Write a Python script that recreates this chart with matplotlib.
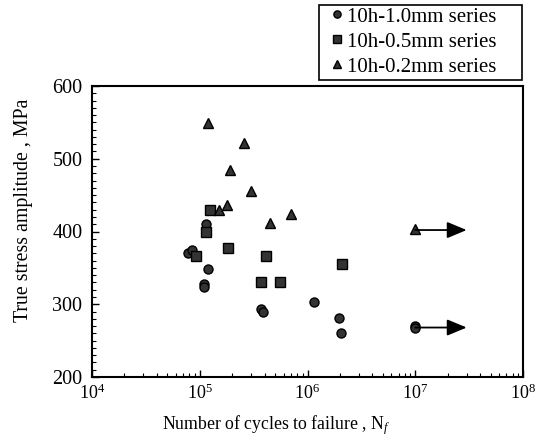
import matplotlib
matplotlib.use("Agg")
import matplotlib.pyplot as plt
from matplotlib.ticker import LogLocator, MultipleLocator, FixedLocator
from matplotlib.patches import Rectangle
import numpy as np

plt.rcParams['font.family'] = ['Liberation Serif', 'DejaVu Serif']
plt.rcParams['mathtext.fontset'] = 'custom'
plt.rcParams['mathtext.rm'] = 'Liberation Serif'
plt.rcParams['mathtext.it'] = 'Liberation Serif:italic'

# 10h-1.0mm series (circles)
n_10 = [7.7e4, 8.5e4, 1.14e5, 1.19e5, 1.1e5, 1.1e5, 3.72e5, 3.9e5, 1.14e6, 1.98e6, 2.06e6]
s_10 = [371, 375, 410, 349, 328, 324, 294, 289, 303, 281, 261]
# 10h-0.5mm series (squares)
n_05 = [9.3e4, 1.14e5, 1.24e5, 1.83e5, 4.11e5, 3.72e5, 5.5e5, 2.08e6]
s_05 = [367, 400, 429, 377, 366, 331, 331, 355]
# 10h-0.2mm series (triangles)
n_02 = [1.19e5, 2.57e5, 1.91e5, 2.97e5, 1.78e5, 1.50e5, 4.45e5, 7.0e5]
s_02 = [549, 521, 484, 455, 436, 429, 412, 424]
# run-out specimens (no failure)
runout_n = [1e7, 1e7, 1e7]
runout_s = [270, 267, 403]
runout_marker = ['o', 'o', '^']
arrow_start_n = [1e7, 1e7]
arrow_s = [268, 402]
arrow_end_n = 3.0e7

labels = ['10h-1.0mm series', '10h-0.5mm series', '10h-0.2mm series']
xticks = [1e4, 1e5, 1e6, 1e7, 1e8]
xticklabels = [r'$10^4$', r'$10^5$', r'$10^6$', r'$10^7$', r'$10^8$']
yticks = [200, 300, 400, 500, 600]

W, H = 539, 443
fig = plt.figure(figsize=(W / 100, H / 100), dpi=100)
ax = fig.add_axes([92 / W, 1 - 377 / H, 431 / W, 291 / H])

fc = '#333333'
kw = dict(linestyle='none', markerfacecolor=fc, markeredgecolor='black', markeredgewidth=1.0)
h1, = ax.plot(n_10, s_10, marker='o', markersize=6.5, label=labels[0], **kw)
h2, = ax.plot(n_05, s_05, marker='s', markersize=6.5, label=labels[1], **kw)
h3, = ax.plot(n_02, s_02, marker='^', markersize=7.5, label=labels[2], **kw)

for n, s in zip(arrow_start_n, arrow_s):
    ax.annotate('', xy=(arrow_end_n, s), xytext=(n, s),
                arrowprops=dict(arrowstyle='-|>,head_length=1.2,head_width=0.5',
                                color='black', lw=1.3, shrinkA=0, shrinkB=0))
for n, s, m in zip(runout_n, runout_s, runout_marker):
    ax.plot([n], [s], marker=m, markersize=6.5 if m == 'o' else 7.5, **kw)

ax.set_xscale('log')
ax.set_xlim(1e4, 1e8)
ax.set_ylim(200, 600)
ax.xaxis.set_major_locator(FixedLocator(xticks))
ax.set_xticks(xticks)
ax.set_xticklabels(xticklabels)
ax.xaxis.set_minor_locator(LogLocator(base=10, subs=np.arange(2, 10), numticks=20))
ax.set_yticks(yticks)
ax.yaxis.set_minor_locator(MultipleLocator(10))

ax.tick_params(axis='both', which='both', direction='in', top=False, right=False)
ax.tick_params(axis='x', labelsize=13, pad=5)
ax.tick_params(axis='y', labelsize=14.5, pad=7)
ax.tick_params(axis='both', which='major', length=5, width=1)
ax.tick_params(axis='both', which='minor', length=3, width=0.8)
for sp in ax.spines.values():
    sp.set_linewidth(1.5)

ax.set_xlabel(r'Number of cycles to failure , N$_{\mathit{f}}$', fontsize=12.8)
ax.xaxis.set_label_coords(0.427, -0.125)
ax.set_ylabel('True stress amplitude , MPa', fontsize=14.3)
ax.yaxis.set_label_coords(-0.138, 0.574)

# legend box (frame drawn separately, content placed inside)
fig.add_artist(Rectangle((319 / W, 1 - 80 / H), 203 / W, 75 / H,
                         transform=fig.transFigure, facecolor='white',
                         edgecolor='black', linewidth=1.2, zorder=5))
leg = fig.legend(handles=[h1, h2, h3], loc='upper left',
                 bbox_to_anchor=(331 / W, 1 - 7 / H), fontsize=15,
                 frameon=False, handlelength=0.6, handletextpad=0.15,
                 borderpad=0, labelspacing=0.26, markerscale=0.8, borderaxespad=0)
leg.set_zorder(6)

fig.savefig('out.png', dpi=100)
